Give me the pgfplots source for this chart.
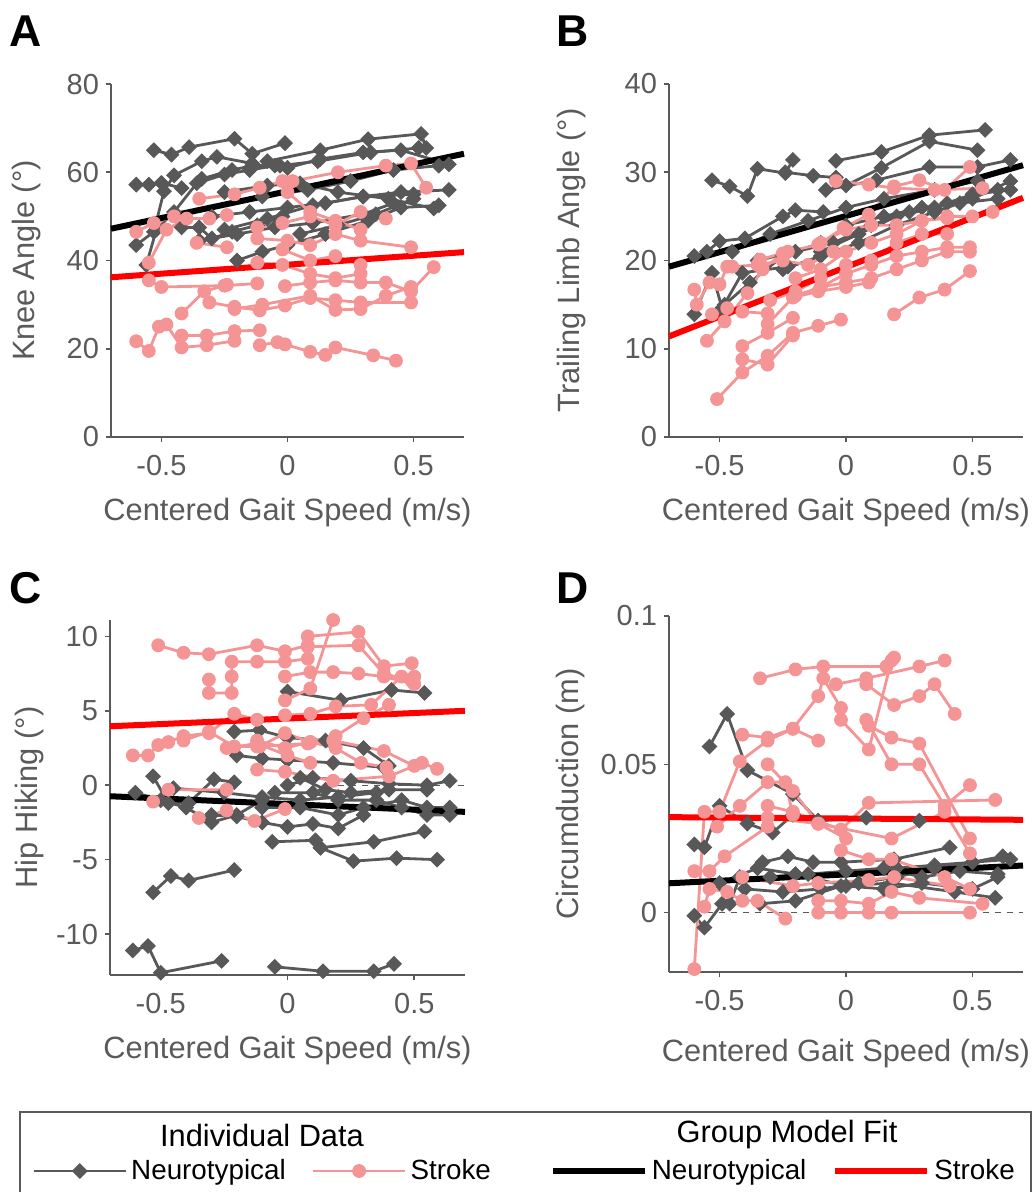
\documentclass[border=0pt]{standalone}
\usepackage{pgfplots}
\pgfplotsset{compat=1.18}
\usepackage{fontspec}
\setmainfont{Liberation Sans}
\definecolor{axgray}{RGB}{90,90,90}
\definecolor{ntgray}{RGB}{88,88,88}
\definecolor{stpink}{RGB}{245,148,148}
\definecolor{fitred}{RGB}{255,0,0}
\newcommand\ticksz{\fontsize{14.5}{17}\selectfont}
\newcommand\labsz{\fontsize{15.4}{18}\selectfont}
\pgfplotsset{
 panel/.style={scale only axis, clip=false,
   axis x line*=bottom, axis y line*=left,
   axis line style={draw=axgray,line width=0.8pt},
   tick style={draw=axgray,line width=0.8pt},
   tick align=outside, major tick length=2.5pt,
   tick label style={font=\ticksz, text=axgray},
   xticklabel style={yshift=-3pt},
   xlabel style={font=\labsz, text=axgray, at={(axis description cs:0.5,-0.214)}, anchor=center},
   ylabel style={font=\labsz, text=axgray, anchor=center},
   xmin=-0.7, xmax=0.7, xtick={-0.5,0,0.5}, xticklabels={-0.5,0,0.5},
   xlabel={Centered Gait Speed (m/s)},
 },
 nt/.style={ntgray, line width=1.4pt, mark=square*, mark size=2.55pt, mark options={rotate=45, solid, fill=ntgray, draw=ntgray, line width=0.5pt}},
 st/.style={stpink, line width=1.4pt, mark=*, mark size=3.2pt, mark options={solid, fill=stpink, draw=stpink, line width=0.5pt}},
 fitn/.style={black, line width=3pt, no markers},
 fits/.style={fitred, line width=3pt, no markers},
}
\begin{document}
\begin{tikzpicture}
\useasboundingbox (0,0) rectangle (516.5pt,-596pt);
% ---------------- A ----------------
\begin{axis}[panel, at={(55.5pt,-218.5pt)}, anchor=south west, width=176.5pt, height=176.5pt,
  ymin=0, ymax=80, ytick={0,20,40,60,80}, yticklabels={0,20,40,60,80},
  ylabel={Knee Angle (°)}, ylabel style={at={(axis description cs:-0.238,0.5)}}]
\addplot[nt] coordinates {(-0.53,65.0) (-0.46,64.0) (-0.39,65.7) (-0.21,67.6) (-0.14,64.2) (-0.01,66.6)};
\addplot[nt] coordinates {(-0.60,57.2) (-0.55,57.2) (-0.50,57.6) (-0.42,56.4)};
\addplot[nt] coordinates {(-0.60,43.5) (-0.53,46.5) (-0.49,55.7) (-0.45,59.3) (-0.34,62.5) (-0.28,63.5) (-0.14,62.0)};
\addplot[nt] coordinates {(-0.56,39.0) (-0.52,47.0) (-0.45,51.0) (-0.36,57.5) (-0.25,59.5) (-0.15,60.5) (-0.05,61.5)};
\addplot[nt] coordinates {(-0.42,47.5) (-0.35,47.5) (-0.30,45.0) (-0.22,46.5) (-0.12,48.0) (-0.02,50.0)};
\addplot[nt] coordinates {(-0.34,58.5) (-0.22,60.5) (-0.14,61.5) (-0.03,61.5) (0.12,62.5) (0.33,64.5) (0.52,65.5)};
\addplot[nt] coordinates {(-0.08,62.5) (0.13,65.0) (0.32,67.5) (0.53,68.7) (0.55,65.5)};
\addplot[nt] coordinates {(0.00,61.0) (0.13,63.0) (0.30,64.5) (0.45,65.0) (0.64,61.8)};
\addplot[nt] coordinates {(-0.20,40.0) (-0.10,42.0) (0.00,43.5) (0.15,46.0) (0.32,49.0) (0.45,52.0) (0.60,52.5)};
\addplot[nt] coordinates {(-0.30,50.0) (-0.15,51.0) (0.00,52.0) (0.15,53.0) (0.30,54.5) (0.45,55.5) (0.64,56.0)};
\addplot[nt] coordinates {(-0.25,47.0) (-0.08,49.5) (0.10,52.5) (0.30,54.5) (0.50,55.0)};
\addplot[nt] coordinates {(-0.10,54.5) (0.08,56.0) (0.25,58.0) (0.42,60.5) (0.60,61.5)};
\addplot[nt] coordinates {(-0.25,55.5) (-0.08,57.0) (0.05,57.5) (0.20,55.5) (0.40,54.0) (0.58,51.8)};
\addplot[nt] coordinates {(0.05,46.0) (0.20,48.0) (0.35,50.5) (0.50,54.0)};
\addplot[nt] coordinates {(-0.35,44.5) (-0.20,46.0) (-0.05,47.5) (0.10,48.5) (0.30,50.5) (0.42,53.0)};
\addplot[st] coordinates {(-0.60,21.7) (-0.55,19.5) (-0.51,25.0) (-0.48,25.5) (-0.42,20.3) (-0.32,20.8) (-0.21,21.8)};
\addplot[st] coordinates {(-0.42,23.0) (-0.32,23.0) (-0.21,24.0) (-0.11,24.2)};
\addplot[st] coordinates {(-0.11,20.8) (-0.04,21.5) (-0.01,21.0) (0.09,19.3) (0.15,18.6) (0.19,20.3) (0.34,18.5) (0.43,17.3)};
\addplot[st] coordinates {(-0.55,35.5) (-0.50,34.0) (-0.25,34.3) (-0.12,34.8)};
\addplot[st] coordinates {(-0.42,28.0) (-0.33,33.0) (-0.24,34.5)};
\addplot[st] coordinates {(-0.31,30.5) (-0.21,29.5) (-0.11,28.7) (-0.01,29.8) (0.09,31.5) (0.19,31.0) (0.29,30.5) (0.49,30.5)};
\addplot[st] coordinates {(-0.21,29.0) (-0.10,30.0) (0.09,32.0) (0.19,28.8) (0.29,29.0) (0.39,32.0) (0.49,34.0)};
\addplot[st] coordinates {(-0.01,34.2) (0.09,35.0) (0.19,35.5) (0.29,35.0) (0.39,35.0) (0.49,33.0) (0.58,38.5)};
\addplot[st] coordinates {(-0.55,39.5) (-0.48,47.0) (-0.40,49.5) (-0.31,49.5) (-0.24,50.3)};
\addplot[st] coordinates {(-0.60,46.5) (-0.53,48.5) (-0.45,50.0)};
\addplot[st] coordinates {(-0.35,54.0) (-0.21,55.0) (-0.11,56.5) (-0.02,58.0) (0.02,58.0) (0.20,60.0) (0.39,61.5) (0.49,62.0) (0.55,56.5)};
\addplot[st] coordinates {(-0.36,44.0) (-0.24,43.0)};
\addplot[st] coordinates {(-0.12,47.5) (-0.02,48.5) (0.09,50.0) (0.19,48.0) (0.29,51.0) (0.39,49.5)};
\addplot[st] coordinates {(-0.12,45.0) (0.00,44.5) (0.09,43.5) (0.19,46.0) (0.29,44.5) (0.49,43.0)};
\addplot[st] coordinates {(-0.02,42.5) (0.09,40.0) (0.19,41.0) (0.29,39.0)};
\addplot[st] coordinates {(-0.12,39.5) (-0.02,39.0) (0.09,37.0) (0.19,36.0) (0.29,37.0)};
\addplot[st] coordinates {(0.00,55.5) (0.09,51.0) (0.19,49.0) (0.29,47.0)};
\addplot[fitn] coordinates {(-0.7,47.2) (0.7,64.2)};
\addplot[fits] coordinates {(-0.7,36.2) (0.7,41.9)};
\end{axis}
% ---------------- B ----------------
\begin{axis}[panel, at={(334.5pt,-218.5pt)}, anchor=south west, width=177pt, height=176.5pt,
  ymin=0, ymax=40, ytick={0,10,20,30,40}, yticklabels={0,10,20,30,40},
  ylabel={Trailing Limb Angle (°)}, ylabel style={at={(axis description cs:-0.274,0.5)}}]
\addplot[nt] coordinates {(-0.53,29.1) (-0.46,28.4) (-0.39,27.3) (-0.35,30.4) (-0.24,29.9) (-0.21,31.4)};
\addplot[nt] coordinates {(-0.24,30.0) (-0.13,29.6) (-0.04,29.4)};
\addplot[nt] coordinates {(-0.04,31.3) (0.14,32.3) (0.33,34.2) (0.55,34.8)};
\addplot[nt] coordinates {(0.00,28.5) (0.14,30.5) (0.33,33.5) (0.52,32.5)};
\addplot[nt] coordinates {(-0.08,28.0) (0.12,29.1) (0.33,30.6) (0.52,30.6) (0.65,31.4)};
\addplot[nt] coordinates {(-0.60,20.5) (-0.55,21.0) (-0.50,22.2) (-0.40,22.5) (-0.25,25.0) (-0.20,25.7) (-0.09,25.5)};
\addplot[nt] coordinates {(-0.60,13.9) (-0.53,18.6) (-0.49,14.6) (-0.41,18.6) (-0.23,19.3)};
\addplot[nt] coordinates {(-0.45,21.0) (-0.30,23.0) (-0.15,24.5) (0.00,26.0) (0.15,27.0) (0.35,28.0) (0.52,29.0)};
\addplot[nt] coordinates {(-0.35,20.0) (-0.20,21.0) (-0.05,22.0) (0.10,24.0) (0.25,25.5) (0.40,26.5) (0.60,28.0)};
\addplot[nt] coordinates {(-0.25,19.0) (-0.10,20.5) (0.05,22.0) (0.20,24.0) (0.35,25.5) (0.50,27.0) (0.65,29.0)};
\addplot[nt] coordinates {(-0.10,21.0) (0.05,23.0) (0.20,25.0) (0.35,26.0) (0.50,27.5) (0.65,28.0)};
\addplot[nt] coordinates {(0.00,24.0) (0.15,25.0) (0.30,26.0) (0.45,26.5) (0.60,27.0)};
\addplot[nt] coordinates {(-0.48,15.0) (-0.38,17.5) (-0.25,20.5) (-0.10,22.0)};
\addplot[st] coordinates {(-0.51,4.3) (-0.41,7.3) (-0.31,9.2) (-0.21,11.8) (-0.11,12.6) (-0.02,13.3)};
\addplot[st] coordinates {(-0.41,10.3) (-0.31,11.8) (-0.21,13.5)};
\addplot[st] coordinates {(-0.41,8.8) (-0.31,8.2) (-0.21,11.5)};
\addplot[st] coordinates {(0.19,13.9) (0.29,15.8) (0.39,16.7) (0.49,18.8)};
\addplot[st] coordinates {(-0.55,10.9) (-0.48,13.1) (-0.39,16.3) (-0.33,19.0) (-0.25,20.8)};
\addplot[st] coordinates {(-0.60,16.7) (-0.59,15.0) (-0.54,17.5) (-0.50,17.3) (-0.47,19.3)};
\addplot[st] coordinates {(-0.53,13.9) (-0.47,14.6) (-0.41,14.2) (-0.31,14.0)};
\addplot[st] coordinates {(-0.34,20.1) (-0.23,21.0) (-0.11,21.8) (-0.01,23.7) (0.09,25.2) (0.19,28.4) (0.29,29.1) (0.39,28.0) (0.49,30.6)};
\addplot[st] coordinates {(-0.04,29.0) (0.09,28.6) (0.19,28.2) (0.35,28.0) (0.54,28.2)};
\addplot[st] coordinates {(-0.10,17.0) (0.00,18.5) (0.10,19.5) (0.20,20.5) (0.30,21.0) (0.40,21.5) (0.49,21.5)};
\addplot[st] coordinates {(-0.20,16.0) (-0.10,17.0) (0.00,17.5) (0.10,18.0) (0.20,19.0) (0.30,20.0) (0.40,21.0) (0.49,21.0)};
\addplot[st] coordinates {(-0.20,18.0) (-0.10,19.0) (0.00,21.0) (0.10,22.0) (0.20,23.0) (0.30,24.5) (0.40,25.0) (0.50,25.0) (0.58,25.5)};
\addplot[st] coordinates {(-0.30,15.5) (-0.20,16.5) (-0.10,18.0) (0.00,19.5) (0.10,20.0) (0.20,22.0) (0.30,23.0) (0.40,23.0)};
\addplot[st] coordinates {(-0.10,22.0) (0.00,23.5) (0.10,24.0) (0.20,24.0) (0.30,24.5) (0.40,24.8)};
\addplot[st] coordinates {(-0.31,12.8) (-0.21,15.8) (-0.11,16.5) (0.00,17.0) (0.09,17.5)};
\addplot[st] coordinates {(-0.45,19.3) (-0.35,19.5) (-0.25,20.0) (-0.15,19.5) (-0.05,21.0)};
\addplot[fitn] coordinates {(-0.7,19.3) (0.7,30.8)};
\addplot[fits] coordinates {(-0.7,11.4) (0.7,27.1)};
\end{axis}
% ---------------- C ----------------
\begin{axis}[panel, at={(55pt,-487.5pt)}, anchor=south west, width=177.5pt, height=177.5pt,
  ymin=-12.75, ymax=11.1, ytick={-10,-5,0,5,10}, yticklabels={-10,-5,0,5,10},
  ylabel={Hip Hiking (°)}, ylabel style={at={(axis description cs:-0.227,0.5)}}]
\addplot[axgray, line width=0.4pt, dashed] coordinates {(0.2,0) (0.7,0)};
\addplot[nt] coordinates {(-0.61,-11.1) (-0.55,-10.8) (-0.50,-12.6) (-0.26,-11.8)};
\addplot[nt] coordinates {(-0.05,-12.2) (0.14,-12.5) (0.34,-12.5) (0.42,-12.0)};
\addplot[nt] coordinates {(-0.53,-7.2) (-0.46,-6.1) (-0.39,-6.4) (-0.21,-5.7)};
\addplot[nt] coordinates {(-0.06,-3.8) (0.11,-3.7) (0.13,-4.2) (0.34,-3.8) (0.54,-3.1)};
\addplot[nt] coordinates {(0.13,-4.2) (0.26,-5.1) (0.43,-4.9) (0.59,-5.0)};
\addplot[nt] coordinates {(-0.53,0.6) (-0.47,-1.2) (-0.39,-1.2) (-0.29,0.4) (-0.21,0.2)};
\addplot[nt] coordinates {(0.00,6.3) (0.21,5.7) (0.41,6.4) (0.54,6.2)};
\addplot[nt] coordinates {(-0.21,3.6) (-0.11,3.7) (0.00,3.2) (0.15,3.0) (0.30,2.5) (0.40,1.3)};
\addplot[nt] coordinates {(-0.60,-0.5) (-0.50,-1.0) (-0.40,-1.5) (-0.30,-2.5) (-0.20,-2.0) (-0.10,-1.0)};
\addplot[nt] coordinates {(-0.30,-2.0) (-0.20,-2.1) (-0.10,-2.5) (0.00,-2.8) (0.10,-2.6) (0.20,-2.9) (0.30,-2.0)};
\addplot[nt] coordinates {(-0.05,-0.5) (0.10,-0.5) (0.20,-1.0) (0.35,-1.0) (0.45,-1.5) (0.55,-2.0) (0.64,-2.0)};
\addplot[nt] coordinates {(0.00,0.0) (0.10,0.5) (0.25,0.3) (0.40,0.1) (0.55,0.0) (0.64,0.3)};
\addplot[nt] coordinates {(-0.10,-1.5) (0.05,-1.5) (0.20,-2.0) (0.30,-1.5) (0.45,-1.0) (0.55,-1.5) (0.64,-1.5)};
\addplot[nt] coordinates {(-0.20,2.0) (-0.10,1.8) (0.00,1.7) (0.18,1.5) (0.38,1.2)};
\addplot[nt] coordinates {(0.05,0.5) (0.15,-0.3) (0.25,-0.5) (0.40,-0.3) (0.55,-0.3)};
\addplot[nt] coordinates {(-0.45,-0.2) (-0.25,-0.5) (-0.10,-0.8) (0.05,-1.0) (0.20,-0.8) (0.35,-0.5)};
\addplot[st] coordinates {(-0.51,9.4) (-0.41,8.9) (-0.31,8.8) (-0.12,9.4) (-0.01,9.0) (0.08,9.4)};
\addplot[st] coordinates {(-0.31,7.1) (-0.31,6.2) (-0.22,6.2) (-0.22,7.3) (-0.22,8.3) (-0.12,8.3) (-0.01,8.3) (0.08,8.5)};
\addplot[st] coordinates {(-0.01,5.7) (0.09,6.5) (0.18,11.1)};
\addplot[st] coordinates {(0.08,10.0) (0.28,10.3) (0.38,8.0) (0.49,8.2)};
\addplot[st] coordinates {(0.08,9.3) (0.28,9.4) (0.38,7.5) (0.49,7.0)};
\addplot[st] coordinates {(-0.61,2.0) (-0.55,2.0) (-0.51,2.7) (-0.47,2.9) (-0.41,3.3) (-0.31,3.5) (-0.21,4.8) (-0.12,4.4)};
\addplot[st] coordinates {(-0.41,3.0) (-0.31,3.6) (-0.21,2.6) (-0.11,2.6) (-0.01,3.5) (0.09,2.9) (0.19,3.3) (0.30,4.5) (0.40,5.4)};
\addplot[st] coordinates {(-0.53,-1.1) (-0.47,-0.3) (-0.24,-0.3)};
\addplot[st] coordinates {(-0.35,-2.2) (-0.24,-1.7) (-0.13,-2.4) (-0.01,-1.6)};
\addplot[st] coordinates {(-0.12,1.05) (-0.01,0.9) (0.18,0.3) (0.40,0.6) (0.53,1.5) (0.59,1.1)};
\addplot[st] coordinates {(-0.12,3.0) (-0.01,2.5) (0.09,2.9) (0.19,2.5) (0.29,1.5) (0.39,1.2)};
\addplot[st] coordinates {(-0.01,4.7) (0.09,4.8) (0.19,5.3) (0.33,5.4) (0.45,7.3) (0.50,7.3)};
\addplot[st] coordinates {(-0.01,7.3) (0.09,7.6) (0.18,7.6) (0.28,7.5) (0.38,7.3) (0.50,6.8)};
\addplot[st] coordinates {(-0.12,2.6) (0.08,2.8) (0.18,3.0) (0.38,2.3) (0.50,1.3)};
\addplot[st] coordinates {(-0.24,2.5) (-0.12,2.8) (0.00,2.0) (0.09,1.5)};
\addplot[fitn] coordinates {(-0.7,-0.74) (0.7,-1.79)};
\addplot[fits] coordinates {(-0.7,3.96) (0.7,5.0)};
\end{axis}
% ---------------- D ----------------
\begin{axis}[panel, at={(334.5pt,-486pt)}, anchor=south west, width=177pt, height=178pt,
  ymin=-0.02, ymax=0.1, ytick={0,0.05,0.1}, yticklabels={0,0.05,0.1},
  ylabel={Circumduction (m)}, ylabel style={at={(axis description cs:-0.277,0.5)}},
  xlabel style={at={(axis description cs:0.5,-0.229)}}]
\addplot[axgray, line width=0.4pt, dashed] coordinates {(-0.55,0) (0.7,0)};
\addplot[nt] coordinates {(-0.54,0.056) (-0.47,0.067) (-0.39,0.048) (-0.21,0.040) (-0.11,0.031)};
\addplot[nt] coordinates {(-0.60,0.023) (-0.56,0.022) (-0.50,0.036) (-0.39,0.030) (-0.29,0.027) (-0.21,0.033) (-0.11,0.031) (0.08,0.032) (0.29,0.031)};
\addplot[nt] coordinates {(-0.60,-0.001) (-0.56,-0.005) (-0.49,0.003) (-0.46,0.003) (-0.42,0.012)};
\addplot[nt] coordinates {(-0.33,0.017) (-0.23,0.019) (-0.13,0.017) (-0.02,0.017) (0.19,0.018) (0.41,0.022)};
\addplot[nt] coordinates {(-0.34,0.003) (-0.20,0.004) (-0.02,0.009) (0.18,0.010) (0.43,0.007) (0.59,0.005)};
\addplot[nt] coordinates {(-0.40,0.008) (-0.25,0.007) (-0.10,0.008) (0.05,0.010) (0.20,0.012) (0.35,0.015) (0.50,0.017) (0.65,0.018)};
\addplot[nt] coordinates {(-0.30,0.012) (-0.15,0.013) (0.00,0.014) (0.15,0.015) (0.30,0.012) (0.45,0.014) (0.60,0.013)};
\addplot[nt] coordinates {(-0.50,0.010) (-0.35,0.015) (-0.20,0.013) (0.00,0.009) (0.15,0.008) (0.30,0.010) (0.50,0.008) (0.60,0.012)};
\addplot[nt] coordinates {(0.20,0.015) (0.35,0.016) (0.50,0.017) (0.62,0.019)};
\addplot[st] coordinates {(-0.60,-0.019) (-0.56,0.034) (-0.50,0.034) (-0.42,0.051) (-0.31,0.058) (-0.21,0.062) (-0.11,0.058)};
\addplot[st] coordinates {(-0.34,0.079) (-0.20,0.082) (-0.09,0.083) (0.16,0.083) (0.19,0.086)};
\addplot[st] coordinates {(-0.41,0.060) (-0.31,0.059) (-0.21,0.062) (-0.11,0.073) (-0.09,0.079) (-0.02,0.069)};
\addplot[st] coordinates {(-0.51,0.029) (-0.42,0.036) (-0.31,0.044) (-0.24,0.044) (-0.21,0.033) (-0.11,0.030)};
\addplot[st] coordinates {(-0.31,0.050) (-0.21,0.041) (-0.11,0.030) (0.00,0.025)};
\addplot[st] coordinates {(-0.04,0.077) (0.08,0.079) (0.29,0.083) (0.39,0.085)};
\addplot[st] coordinates {(0.08,0.077) (0.19,0.070) (0.29,0.073) (0.35,0.077) (0.43,0.067)};
\addplot[st] coordinates {(-0.02,0.065) (0.09,0.055) (0.18,0.085)};
\addplot[st] coordinates {(0.08,0.065) (0.18,0.050) (0.29,0.050) (0.39,0.036) (0.49,0.043)};
\addplot[st] coordinates {(0.09,0.063) (0.18,0.059) (0.29,0.057) (0.49,0.025)};
\addplot[st] coordinates {(-0.60,0.014) (-0.54,0.014) (-0.48,0.019) (-0.31,0.029)};
\addplot[st] coordinates {(-0.56,0.002) (-0.54,0.008) (-0.47,0.007) (-0.41,0.004) (-0.35,0.004) (-0.24,-0.002)};
\addplot[st] coordinates {(-0.11,0.000) (-0.02,0.000) (0.09,0.000) (0.18,0.000) (0.49,0.000)};
\addplot[st] coordinates {(-0.11,0.004) (-0.02,0.004) (0.09,0.003) (0.18,0.007) (0.29,0.005) (0.54,0.003)};
\addplot[st] coordinates {(-0.31,0.036) (-0.21,0.034) (-0.02,0.028) (0.09,0.037) (0.59,0.038)};
\addplot[st] coordinates {(-0.02,0.021) (0.09,0.018) (0.18,0.018) (0.39,0.012) (0.49,0.008)};
\addplot[st] coordinates {(-0.41,0.012) (-0.21,0.009) (-0.11,0.010) (0.09,0.011) (0.19,0.012) (0.41,0.009)};
\addplot[st] coordinates {(-0.31,0.032) (-0.11,0.030) (0.18,0.025) (0.39,0.034) (0.49,0.020)};
\addplot[fitn] coordinates {(-0.7,0.0099) (0.7,0.0159)};
\addplot[fits] coordinates {(-0.7,0.0322) (0.7,0.0313)};
\end{axis}
% ---------------- legend ----------------
\begin{axis}[at={(0pt,-605pt)}, anchor=south west, scale only axis, width=516.5pt, height=39pt,
  hide axis, xmin=0, xmax=1, ymin=0, ymax=1,
  legend columns=4,
  legend style={draw=none, fill=none, at={(axis description cs:0.031,0.5)}, anchor=west,
    font=\fontsize{13.9}{16}\selectfont, inner sep=0pt, nodes={inner sep=0pt},
    /tikz/every odd column/.append style={column sep=2pt},
    /tikz/every even column/.append style={column sep=13pt}},
  legend image code/.code={\draw[mark repeat=2,mark phase=2,#1] plot coordinates {(0pt,0pt) (23pt,0pt) (46pt,0pt)};}]
\addlegendimage{nt}
\addlegendentry{Neurotypical}
\addlegendimage{st}
\addlegendentry{Stroke\rule{16.5pt}{0pt}}
\addlegendimage{fitn}
\addlegendentry{Neurotypical}
\addlegendimage{fits}
\addlegendentry{Stroke}
\end{axis}
\draw[axgray, line width=0.75pt] (10pt,-556pt) rectangle (515.5pt,-620pt);
\node[anchor=center, font=\fontsize{15.4}{18}\selectfont, inner sep=0pt] at (131pt,-567.5pt) {Individual Data};
\node[anchor=center, font=\fontsize{15.4}{18}\selectfont, inner sep=0pt] at (393.5pt,-567.5pt) {Group Model Fit};
% panel letters
\node[anchor=base west, font=\fontsize{22.3}{26}\selectfont\bfseries, inner sep=0pt] at (4.5pt,-23.5pt) {A};
\node[anchor=base west, font=\fontsize{22.3}{26}\selectfont\bfseries, inner sep=0pt] at (278pt,-23.5pt) {B};
\node[anchor=base west, font=\fontsize{22.3}{26}\selectfont\bfseries, inner sep=0pt] at (4.5pt,-301.5pt) {C};
\node[anchor=base west, font=\fontsize{22.3}{26}\selectfont\bfseries, inner sep=0pt] at (278pt,-301.5pt) {D};
\end{tikzpicture}
\end{document}
